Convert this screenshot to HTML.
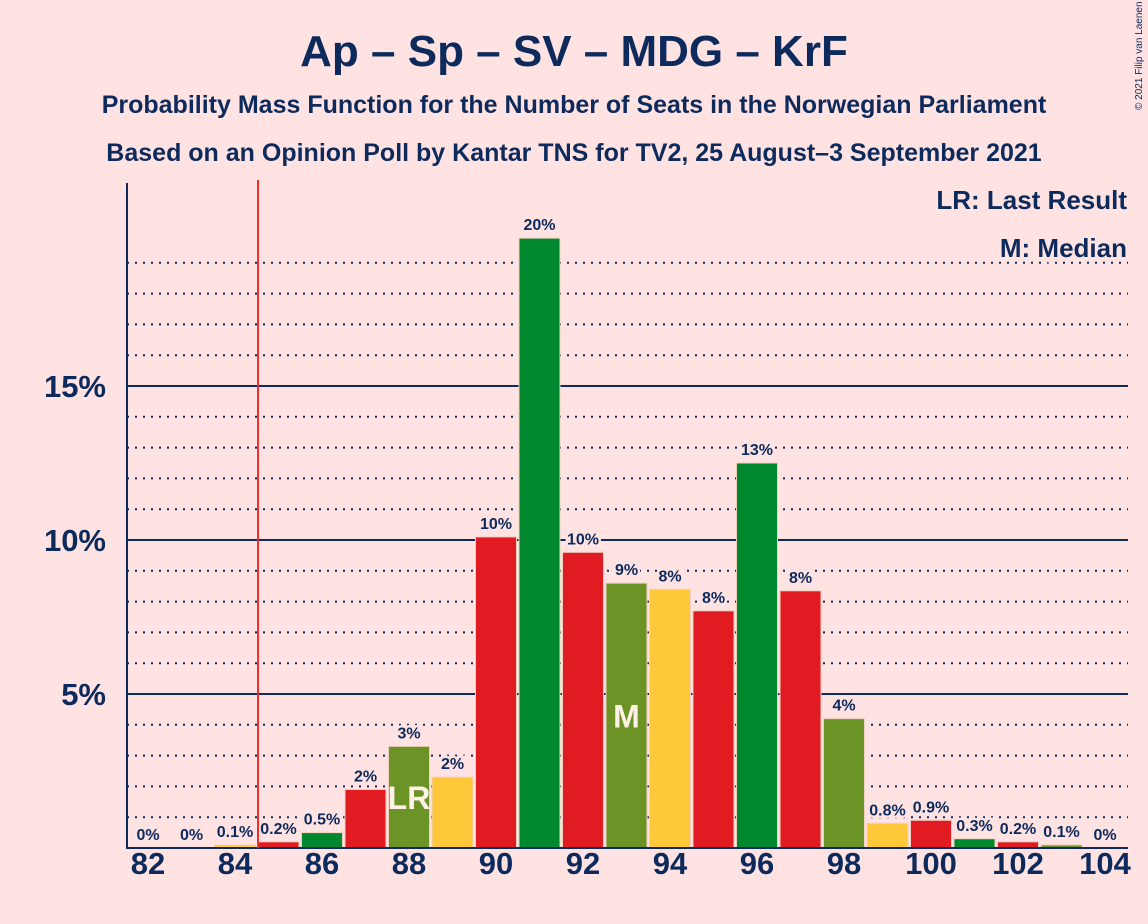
<!DOCTYPE html>
<html><head><meta charset="utf-8"><style>
body{margin:0;background:#ffe2e2;}
svg{display:block;font-family:"Liberation Sans",sans-serif;}
</style></head><body>
<svg id="c" width="1148" height="924">
<rect width="1148" height="924" fill="#ffe2e2"/>
<text x="574" y="66" text-anchor="middle" font-size="44" font-weight="bold" fill="#0c2a5c">Ap – Sp – SV – MDG – KrF</text>
<text x="574" y="113" text-anchor="middle" font-size="25" font-weight="bold" fill="#0c2a5c">Probability Mass Function for the Number of Seats in the Norwegian Parliament</text>
<text x="574" y="161" text-anchor="middle" font-size="25" font-weight="bold" fill="#0c2a5c">Based on an Opinion Poll by Kantar TNS for TV2, 25 August–3 September 2021</text>
<text x="1142" y="110" font-size="10" fill="#0c2a5c" transform="rotate(-90 1142 110)">© 2021 Filip van Laenen</text>
<g id="grid"></g><g id="bars"></g><g id="labels"></g>
<text x="1127" y="209" text-anchor="end" font-size="26" font-weight="bold" fill="#0c2a5c" stroke="#ffe2e2" stroke-width="6" paint-order="stroke">LR: Last Result</text>
<text x="1127" y="257" text-anchor="end" font-size="26" font-weight="bold" fill="#0c2a5c" stroke="#ffe2e2" stroke-width="6" paint-order="stroke">M: Median</text>
<line x1="127" y1="183" x2="127" y2="849" stroke="#0c2a5c" stroke-width="2"/>
<line x1="126" y1="848" x2="1128" y2="848" stroke="#0c2a5c" stroke-width="2"/>
<line x1="258" y1="180" x2="258" y2="848" stroke="#f03030" stroke-width="2"/>
</svg>
<script>
const seats=[82,83,84,85,86,87,88,89,90,91,92,93,94,95,96,97,98,99,100,101,102,103,104];
const probs=[0,0,0.1,0.2,0.5,1.9,3.3,2.3,10.1,19.8,9.6,8.6,8.4,7.7,12.5,8.35,4.2,0.8,0.9,0.3,0.2,0.1,0];
const labelsTxt=["0%","0%","0.1%","0.2%","0.5%","2%","3%","2%","10%","20%","10%","9%","8%","8%","13%","8%","4%","0.8%","0.9%","0.3%","0.2%","0.1%","0%"];
const yTicks=[5,10,15];
const xTicks=[82,84,86,88,90,92,94,96,98,100,102,104];
const lastResult=88, median=93;
const colors=["#e01b22","#00882f","#e01b22","#6b9326","#ffc83a"];
const NS="http://www.w3.org/2000/svg";
const X=s=>148+(s-82)*43.5, Y=v=>848-v*30.8;
function mk(t,a,p){const e=document.createElementNS(NS,t);for(const k in a)e.setAttribute(k,a[k]);p.appendChild(e);return e;}
const g=document.getElementById('grid'),b=document.getElementById('bars'),l=document.getElementById('labels'),svg=document.getElementById('c');
for(let v=1;v<=19;v++){
 const solid=v%5===0;
 const e=mk('line',{x1:127,x2:1128,y1:Y(v),y2:Y(v),stroke:"#0c2a5c","stroke-width":2,"stroke-dasharray":solid?"none":"2,6"},g);
 
 
}
yTicks.forEach(v=>{const t=mk('text',{x:106,y:Y(v)+11,"text-anchor":"end","font-size":31,"font-weight":"bold",fill:"#0c2a5c"},svg);t.textContent=v+"%";
 
 });
xTicks.forEach(s=>{const t=mk('text',{x:X(s),y:874,"text-anchor":"middle","font-size":31,"font-weight":"bold",fill:"#0c2a5c"},svg);t.textContent=s;
 
 });
seats.forEach((s,i)=>{
 const v=probs[i],c=colors[((s-85)%5+5)%5];
 if(v>0){const r=mk('rect',{x:X(s)-20.5,y:Y(v),width:41,height:848-Y(v),fill:c,stroke:"#f0d0c0","stroke-width":1},b);
  
  }
 const t=mk('text',{x:X(s),y:Y(v)-8,"text-anchor":"middle","font-size":16,"font-weight":"bold",fill:"#0c2a5c",stroke:"#ffe2e2","stroke-width":5,"paint-order":"stroke"},l);t.textContent=labelsTxt[i];
 
 
 if(s===lastResult||s===median){const m=mk('text',{x:X(s),y:Y(v/2)+12,"text-anchor":"middle","font-size":32,"font-weight":"bold",fill:"#fff0e8"},l);m.textContent=s===lastResult?"LR":"M";
  
  }
});
</script>
</body></html>
